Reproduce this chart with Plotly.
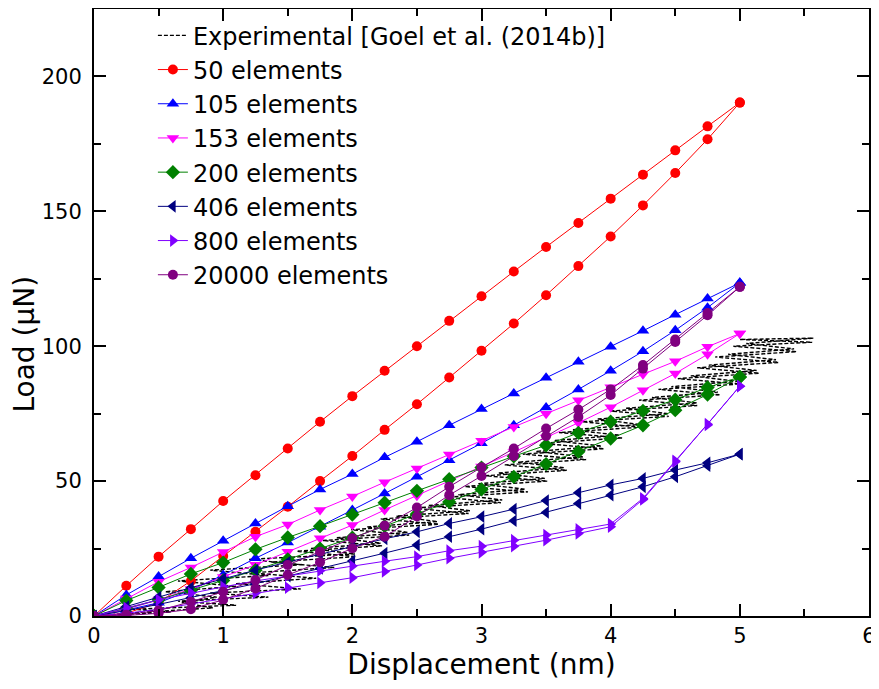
import plotly.graph_objects as go

# ---------------- data ----------------
disp_load = [0, 0.25, 0.5, 0.75, 1.0, 1.25, 1.5, 1.75, 2.0, 2.25, 2.5,
             2.75, 3.0, 3.25, 3.5, 3.75, 4.0, 4.25, 4.5, 4.75, 5.0]
disp_unload = disp_load[::-1]

# 50 elements
e50_upper = [0, 11.2, 22, 32.2, 42.6, 52.2, 62.1, 72, 81.5, 90.9, 100,
             109.4, 118.5, 127.7, 136.8, 145.7, 154.7, 163.6, 172.6, 181.5, 190.3]
e50_lower = [0, 1, 5, 13, 22.2, 31.2, 40.5, 50, 59.3, 69, 78.5,
             88.4, 98.3, 108.4, 118.9, 129.7, 140.7, 152.2, 164.2, 176.7, 190.3]
# 105 elements
e105_upper = [0, 7.8, 14.6, 21.4, 27.9, 34.3, 40.7, 46.9, 52.6, 58.8, 64.6,
              70.7, 76.7, 82.5, 88.3, 94.2, 99.8, 105.7, 111.7, 117.7, 123.5]
e105_lower = [0, 2.2, 4.9, 9.6, 15.2, 21.4, 27.2, 33.1, 39.3, 45.4, 51.6,
              57.7, 64, 70.7, 77.3, 84, 90.9, 98.1, 105.9, 114.3, 123.5]
# 153 elements
e153_upper = [0, 6.5, 12.7, 18, 23.7, 29.4, 33.9, 39.3, 44.3, 49.6, 54.7,
              59.9, 65, 70.1, 75, 80, 84.8, 89.6, 94.4, 99.8, 104.7]
e153_lower = [0, 2.5, 6, 10, 14.5, 19, 23.8, 28.8, 33.7, 39.3, 44.6,
              50, 55.4, 60.8, 66.2, 71.6, 77.4, 83.7, 89.9, 97, 104.7]
# 200 elements
e200_upper = [0, 5.7, 10.6, 15.6, 19.8, 24.7, 29.1, 33.3, 37.6, 42, 46.4,
              50.7, 55, 59.2, 63.3, 67.9, 72, 76, 80.2, 84.7, 88.6]
e200_lower = [0, 2.8, 6, 9.5, 13.2, 17, 21, 25, 29, 33.3, 37.8,
              42.3, 46.9, 51.6, 56.3, 60.9, 65.8, 70.7, 76.3, 82.1, 88.6]
# 406 elements
e406_upper = [0, 3.5, 7, 10.5, 13.8, 17, 20, 23, 25.8, 28.6, 31.2,
              34.3, 36.8, 39.6, 42.8, 45.7, 48.6, 51, 54.1, 56.8, 60]
e406_lower = [0, 2, 4.3, 6.8, 9.4, 12, 14.8, 17.6, 20.4, 23.3, 26.3,
              29.4, 32.2, 35.3, 38.4, 41.7, 44.8, 47.9, 51.6, 55.7, 60]
# 800 elements
e800_upper = [0, 3, 6, 8.5, 10.8, 13, 15, 16.8, 18.5, 20.3, 22,
              24.2, 25.9, 28.1, 30, 32.1, 34.1, 43.6, 57.5, 71.1, 85.2]
e800_lower = [0, 1, 2.5, 4.5, 6.5, 8.5, 10.5, 12.3, 14.2, 16.5, 18.9,
              21.4, 23.6, 25.9, 28.1, 30.6, 33.1, 43.2, 57.2, 70.8, 85.2]
# 20000 elements
e20000_upper = [0, 0.5, 2, 5.3, 9, 13.3, 18.9, 23.8, 28.8, 33.5, 40.2,
                47.9, 55.1, 62.1, 69.5, 76.5, 84, 93, 102.5, 112.3, 122]
e20000_lower = [0, 0.2, 1, 2.5, 6, 10.2, 15.2, 19.9, 25.1, 29.4, 36.9,
                44.8, 51.9, 59.3, 66.7, 73.8, 81.9, 91.7, 101.6, 111.5, 122]

# Experimental [Goel et al. (2014b)]
exp_x = [0.00, 0.60, 0.30, 1.10, 0.65, 1.35, 0.90, 1.60, 1.10, 1.72, 1.22, 1.86,
         1.37, 2.03, 1.57, 2.23, 1.77, 2.44, 1.99, 2.67, 2.22, 2.90, 2.47, 3.15,
         2.72, 3.36, 2.87, 3.51, 3.03, 3.66, 3.18, 3.81, 3.32, 3.95, 3.46, 4.09,
         3.60, 4.23, 3.78, 4.45, 4.00, 4.67, 4.22, 4.85, 4.37, 5.00, 4.52, 5.15,
         4.67, 5.30, 4.81, 5.44, 4.95, 5.56, 5.00, 5.57,
         5.05, 5.42, 4.91, 5.28, 4.76, 5.13, 4.62, 4.98, 4.47, 4.83, 4.32, 4.67,
         4.12, 4.45, 3.90, 4.22, 3.70, 4.07, 3.56, 3.93, 3.42, 3.79, 3.28, 3.64,
         3.13, 3.49, 2.97, 3.34, 2.82, 3.16, 2.59, 2.91, 2.34, 2.66, 2.11, 2.43,
         1.88, 2.22, 1.68, 2.02, 1.20, 1.60, 0.90, 1.35, 0.65, 1.10, 0.55, 0.95,
         0.68, 0.92, 0.25, 0.00]
exp_y = [0.0, 1.5, 2.5, 4.0, 5.5, 7.0, 8.5, 10.0, 12.0, 14.0, 16.0, 18.0,
         20.0, 22.0, 24.0, 26.0, 28.0, 30.0, 32.0, 34.0, 36.0, 38.0, 40.0, 42.0,
         44.0, 46.0, 48.0, 50.0, 52.0, 54.0, 56.0, 58.0, 60.0, 62.0, 64.0, 66.0,
         68.0, 70.0, 72.0, 74.0, 76.0, 78.0, 80.0, 82.0, 84.0, 86.0, 88.0, 90.0,
         92.0, 94.0, 96.0, 98.0, 100.0, 101.5, 102.5, 103.0,
         101.0, 99.0, 97.0, 95.0, 93.0, 91.0, 89.0, 87.0, 85.0, 83.0, 81.0, 79.0,
         77.0, 75.0, 73.0, 71.0, 69.0, 67.0, 65.0, 63.0, 61.0, 59.0, 57.0, 55.0,
         53.0, 51.0, 49.0, 47.0, 45.0, 43.0, 41.0, 39.0, 37.0, 35.0, 33.0, 31.0,
         29.0, 27.0, 25.0, 23.0, 21.0, 19.0, 17.0, 15.0, 13.0, 11.0, 9.0, 7.0,
         5.0, 3.0, 1.0, 0.0]

series = [
    ("50 elements", e50_upper, e50_lower, "#FF0000", "circle", 10),
    ("105 elements", e105_upper, e105_lower, "#0000FF", "triangle-up", 11),
    ("153 elements", e153_upper, e153_lower, "#FF00FF", "triangle-down", 11),
    ("200 elements", e200_upper, e200_lower, "#008000", "diamond", 11),
    ("406 elements", e406_upper, e406_lower, "#000080", "triangle-left", 11),
    ("800 elements", e800_upper, e800_lower, "#8000FF", "triangle-right", 11),
    ("20000 elements", e20000_upper, e20000_lower, "#800080", "circle", 10),
]

# ---------------- figure ----------------
fig = go.Figure()

fig.add_trace(go.Scatter(
    x=exp_x, y=exp_y, mode="lines", name="Experimental [Goel et al. (2014b)]",
    line=dict(color="black", width=1.4, dash="4px,2px"),
))

for name, up, low, color, sym, msize in series:
    fig.add_trace(go.Scatter(
        x=disp_load + disp_unload, y=low + up[::-1],
        mode="lines+markers", name=name,
        line=dict(color=color, width=1),
        marker=dict(color=color, symbol=sym, size=msize),
    ))

font_family = "DejaVu Sans, Verdana, sans-serif"
axis_common = dict(
    showline=True, linewidth=2, linecolor="black", mirror="ticks",
    ticks="inside", ticklen=12, tickwidth=2, tickcolor="black",
    showgrid=False, zeroline=False, automargin=False,
    ticklabeloverflow="allow",
    tickfont=dict(family=font_family, size=21, color="black"),
)

fig.update_layout(
    width=871, height=681,
    margin=dict(l=86, r=10, t=1, b=73),
    paper_bgcolor="white", plot_bgcolor="white",
    font=dict(family=font_family, color="black"),
    showlegend=True,
    legend=dict(
        x=0.076, y=0.993, xanchor="left", yanchor="top",
        bgcolor="rgba(0,0,0,0)", borderwidth=0,
        font=dict(family=font_family, size=24, color="black"),
        tracegroupgap=0,
    ),
    xaxis=dict(
        range=[0, 6], dtick=1, tick0=0,
        minor=dict(dtick=0.5, ticklen=7, tickwidth=2, ticks="inside", tickcolor="black"),
        title=dict(text="Displacement (nm)", standoff=2,
                   font=dict(family=font_family, size=28, color="black")),
        **axis_common,
    ),
    yaxis=dict(
        range=[0, 225], dtick=50, tick0=0, ticklabelstandoff=6,
        minor=dict(dtick=25, ticklen=7, tickwidth=2, ticks="inside", tickcolor="black"),
        **axis_common,
    ),
    annotations=[dict(
        text="Load (μN)", textangle=-90, showarrow=False,
        xref="paper", yref="paper", x=-0.0897, y=0.448,
        xanchor="center", yanchor="middle",
        font=dict(family=font_family, size=28, color="black"),
    )],
)

fig.write_html("out.html")
